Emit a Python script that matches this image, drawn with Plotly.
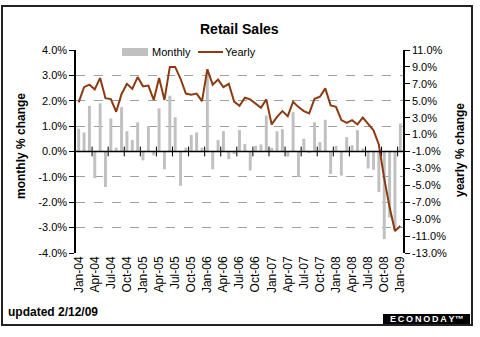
import pandas as pd
import plotly.graph_objects as go

# ---- data -------------------------------------------------------------
months = pd.date_range("2004-01-01", "2009-01-01", freq="MS").strftime("%b-%y").tolist()

monthly = [0.90, 0.75, 1.80, -1.05, 1.90, -1.40, 1.30, 0.15, 1.75, 0.80, 0.45, 1.15,
           -0.35, 1.00, -0.15, 1.70, -0.70, 2.20, 1.35, -1.35, 0.15, 0.65, 0.75, 0.15,
           3.25, -0.70, 0.45, 0.80, -0.30, -0.10, 0.85, 0.30, -0.75, 0.22, 0.28, 1.42,
           0.15, 0.80, 0.88, -0.20, 1.55, -1.00, 0.50, -0.05, 1.15, 0.37, 1.25, -0.88,
           0.22, -0.95, 0.57, 0.25, 0.84, 0.12, -0.67, -0.72, -1.60, -3.45, -2.60, -3.10,
           1.10]

yearly = [4.8, 6.6, 6.9, 6.35, 7.7, 5.3, 5.2, 3.7, 5.8, 7.0, 6.4, 7.8,
          6.7, 6.8, 5.1, 7.7, 5.1, 9.0, 9.0, 7.6, 5.85, 5.7, 5.85, 4.95,
          8.7, 6.9, 7.5, 6.6, 7.0, 4.9, 4.4, 5.36, 5.16, 4.68, 4.17, 5.16,
          2.2, 3.1, 3.78, 3.18, 4.88, 4.25, 3.78, 3.5, 5.24, 5.47, 6.46, 4.45,
          4.29, 2.71, 2.39, 2.71, 2.2, 3.0, 2.3, 1.5, -0.2, -4.2, -7.6, -10.4,
          -9.8]

left_ticks = [4, 3, 2, 1, 0, -1, -2, -3, -4]
right_ticks = [11, 9, 7, 5, 3, 1, -1, -3, -5, -7, -9, -11, -13]

x = list(range(len(months)))
label_idx = list(range(0, len(months), 3))
label_text = [months[i] for i in label_idx]
zero_tick_x = [i - 0.5 for i in range(3, len(months), 3)]

# ---- geometry helpers (pixel -> paper) -------------------------------
W, H = 480, 337
L, R, T, B = 76, 77, 50, 84
PW, PH = W - L - R, H - T - B


def px(xp):
    return (xp - L) / PW


def py(yp):
    return (H - B - yp) / PH


FONT = "Liberation Sans, Arial, sans-serif"
BROWN = "#8b3a12"
GRAY = "#c0c0c0"

fig = go.Figure()
fig.add_trace(go.Bar(x=x, y=monthly, name="Monthly", marker_color=GRAY,
                     marker_line_width=0, width=0.55, yaxis="y", showlegend=False))
fig.add_trace(go.Scatter(x=x, y=yearly, name="Yearly", mode="lines",
                         line=dict(color=BROWN, width=2), yaxis="y2", showlegend=False))
fig.add_trace(go.Scatter(x=zero_tick_x, y=[0] * len(zero_tick_x), mode="markers",
                         marker=dict(symbol="line-ns", size=7,
                                     line=dict(width=1, color="black")),
                         yaxis="y", hoverinfo="skip", showlegend=False))

shapes = [
    # zero axis line
    dict(type="line", xref="paper", yref="y", x0=0, x1=1, y0=0, y1=0,
         line=dict(color="black", width=1.5), layer="above"),
    # legend background
    dict(type="rect", xref="paper", yref="paper", x0=px(118), x1=px(263),
         y0=py(58), y1=py(45), fillcolor="white", line_width=0, layer="above"),
    # legend swatches
    dict(type="rect", xref="paper", yref="paper", x0=px(122), x1=px(148),
         y0=py(56), y1=py(48), fillcolor=GRAY, line_width=0, layer="above"),
    dict(type="line", xref="paper", yref="paper", x0=px(198), x1=px(223),
         y0=py(52), y1=py(52), line=dict(color=BROWN, width=2), layer="above"),
    # outer border
    dict(type="rect", xref="paper", yref="paper", x0=px(2), x1=px(472),
         y0=py(325), y1=py(6), line=dict(color="#222222", width=2),
         fillcolor="rgba(0,0,0,0)", layer="above"),
    # logo box
    dict(type="rect", xref="paper", yref="paper", x0=px(383), x1=px(470),
         y0=py(324), y1=py(314), fillcolor="black", line_width=0, layer="above"),
]


def ann(text, xp, yp, size, xanchor="center", angle=0, color="black"):
    return dict(text=text, x=px(xp), y=py(yp), xref="paper", yref="paper",
                xanchor=xanchor, yanchor="middle", textangle=angle,
                showarrow=False, font=dict(family=FONT, size=size, color=color))


annotations = [
    ann("<b>Retail Sales</b>", 239, 29, 14),
    ann("Monthly", 150, 52, 11, xanchor="left"),
    ann("Yearly", 223, 52, 11, xanchor="left"),
    ann("<b>monthly % change</b>", 21, 146, 12, angle=-90),
    ann("<b>yearly % change</b>", 460, 150, 12, angle=-90),
    ann("<b>updated 2/12/09</b>", 6, 312, 12, xanchor="left"),
    ann("<b>E\u2009C\u2009O\u2009N\u2009O\u2009D\u2009A\u2009Y\u2122</b>",
        426.5, 319, 9, color="white"),
]

fig.update_layout(
    width=W, height=H,
    margin=dict(l=L, r=R, t=T, b=B),
    paper_bgcolor="white", plot_bgcolor="white",
    font=dict(family=FONT, size=11, color="black"),
    bargap=0.45,
    showlegend=False,
    xaxis=dict(range=[-0.5, len(months) - 0.5], tickmode="array",
               tickvals=label_idx, ticktext=label_text, tickangle=-90,
               ticks="", showgrid=False, zeroline=False, showline=False,
               tickfont=dict(family=FONT, size=12, color="black")),
    yaxis=dict(range=[-4, 4], tickmode="array", tickvals=left_ticks,
               ticktext=[f"{v:.1f}%" for v in left_ticks],
               showgrid=True, gridcolor="#a0a0a0", griddash="dash", gridwidth=1,
               zeroline=False, showline=True, linecolor="black", linewidth=1.5,
               ticks="outside", ticklen=5, tickcolor="black",
               tickfont=dict(family=FONT, size=11, color="black")),
    yaxis2=dict(range=[-13, 11], overlaying="y", side="right", tickmode="array",
                tickvals=right_ticks, ticktext=[f"{v:.1f}%" for v in right_ticks],
                showgrid=False, zeroline=False, showline=True, linecolor="black",
                linewidth=1.5, ticks="outside", ticklen=5, tickcolor="black",
                tickfont=dict(family=FONT, size=11, color="black")),
    shapes=shapes,
    annotations=annotations,
)

fig.write_html("out.html")
